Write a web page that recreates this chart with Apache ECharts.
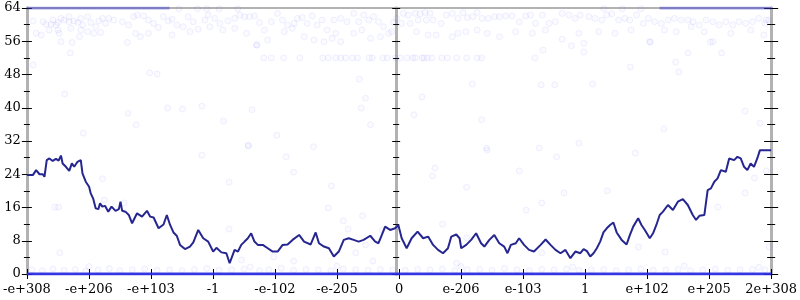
<!DOCTYPE html>
<html>
<head>
<meta charset="utf-8">
<script src="https://cdn.jsdelivr.net/npm/echarts@6/dist/echarts.min.js"></script>
<style>html,body{margin:0;padding:0;background:#fff;}#c{width:800px;height:300px;}</style>
</head>
<body>
<div id="c"></div>
<script>
// Tick labels of the x axis (one per unit step from 0 to 12)
const xTickLabels = ['-e+308','-e+206','-e+103','-1','-e-102','-e-205','0','e-206','e-103','1','e+102','e+205','2e+308'];

// Running-mean trend line [x, bits]
const trendPoints = [
[0,23.8],[0.096,23.8],[0.149,25.0],[0.176,25.3],[0.203,24.0],[0.256,24.0],[0.283,23.4],[0.32,27.4],[0.363,27.8],[0.416,27.2],
[0.469,27.7],[0.512,27.3],[0.549,28.5],[0.576,26.6],[0.629,25.8],[0.683,24.8],[0.725,26.6],[0.763,25.8],[0.816,27.0],[0.869,27.4],
[0.896,24.2],[0.949,22.2],[1.003,21.0],[1.029,19.4],[1.067,18.2],[1.109,15.8],[1.152,15.6],[1.179,17.0],[1.216,16.2],[1.259,16.4],
[1.312,15.0],[1.365,16.2],[1.429,15.2],[1.483,15.6],[1.509,17.4],[1.536,15.2],[1.589,15.0],[1.643,14.2],[1.696,12.2],[1.776,14.6],
[1.856,13.8],[1.936,15.2],[1.989,13.8],[2.043,13.6],[2.123,11.0],[2.203,11.9],[2.256,14.2],[2.309,11.8],[2.363,10.0],[2.416,9.2],
[2.469,7.0],[2.549,6.0],[2.629,6.6],[2.683,7.6],[2.763,10.6],[2.843,8.6],[2.923,7.8],[3.003,5.4],[3.056,6.3],[3.136,5.2],
[3.216,5.0],[3.269,2.6],[3.349,5.8],[3.403,5.4],[3.456,7.0],[3.509,7.8],[3.563,8.6],[3.616,9.8],[3.669,7.8],[3.723,7.0],
[3.803,7.0],[3.883,6.2],[3.963,5.4],[4.043,5.4],[4.123,7.0],[4.203,7.1],[4.283,8.2],[4.389,9.4],[4.469,7.8],[4.576,7.1],
[4.656,10.0],[4.709,7.4],[4.789,6.6],[4.869,6.2],[4.949,4.2],[5.029,5.4],[5.109,8.2],[5.189,8.6],[5.269,8.2],[5.349,7.8],
[5.429,8.2],[5.536,9.2],[5.616,7.8],[5.669,7.4],[5.723,9.4],[5.776,11.4],[5.856,10.6],[5.936,11.0],[5.989,11.8],[6.043,8.6],
[6.123,6.2],[6.203,8.6],[6.299,10.2],[6.389,8.6],[6.469,9.0],[6.549,7.0],[6.629,5.8],[6.709,5.0],[6.789,6.2],[6.843,9.0],
[6.923,9.5],[6.976,8.6],[7.003,6.2],[7.083,7.0],[7.163,8.2],[7.243,9.8],[7.323,7.4],[7.376,6.6],[7.456,8.2],[7.536,9.4],
[7.616,7.4],[7.696,6.6],[7.749,5.0],[7.803,7.0],[7.883,7.4],[7.936,8.6],[8.016,7.0],[8.096,5.8],[8.176,5.4],[8.283,7.0],
[8.363,8.3],[8.443,7.0],[8.523,5.8],[8.603,5.0],[8.683,5.8],[8.763,3.8],[8.843,5.4],[8.923,5.0],[8.976,6.0],[9.029,5.5],
[9.083,4.2],[9.136,5.0],[9.189,6.2],[9.243,7.8],[9.296,10.0],[9.349,11.0],[9.403,11.8],[9.456,12.4],[9.509,10.0],[9.589,8.2],
[9.669,7.1],[9.723,9.4],[9.776,11.4],[9.856,13.4],[9.909,11.8],[9.963,10.6],[10.043,8.6],[10.096,9.8],[10.149,11.8],[10.203,14.2],
[10.256,15.0],[10.336,16.6],[10.416,15.4],[10.496,17.4],[10.576,18.0],[10.656,16.6],[10.736,14.2],[10.789,13.0],[10.843,14.0],[10.923,14.2],
[10.976,20.2],[11.029,20.6],[11.083,22.2],[11.136,23.0],[11.189,25.0],[11.269,24.6],[11.323,27.8],[11.403,27.4],[11.456,28.2],[11.509,27.8],
[11.563,25.8],[11.616,25.0],[11.669,26.6],[11.723,25.8],[11.776,27.8],[11.819,29.8],[12,29.8]
];

// Samples packed at 0 bits and at 64 bits (dense runs)
const zeroRun = [[0,0],[12,0]];
const fullRunLeft = [[0,64],[2.3,64]];
const fullRunRight = [[10.2,64],[12,64]];

// Samples near the top (55-63 bits)
const topBand = [
[0.10,60.9],[0.26,60.7],[0.15,57.9],[0.23,57.5],[0.31,60.1],[0.39,60.1],[0.47,59.9],[0.50,60.5],[0.60,61.1],[0.68,60.7],
[0.76,60.9],[0.82,60.5],[0.90,59.9],[0.98,61.9],[1.03,60.5],[1.11,59.5],[0.50,58.7],[0.52,57.9],[0.36,58.7],[0.71,59.1],
[0.87,58.7],[0.98,58.3],[1.08,57.9],[1.19,58.1],[0.55,55.9],[0.73,55.7],[0.85,57.1],[1.22,61.5],[1.27,60.3],[1.16,60.9],
[0.87,61.5],[0.55,61.5],[0.68,61.9],[0.42,61.1],[1.32,61.5],[1.40,61.1],[1.54,60.7],[1.64,59.9],[1.72,61.9],[1.78,62.3],
[1.88,62.1],[1.96,61.1],[2.04,60.3],[2.12,59.3],[2.20,61.9],[2.28,60.9],[2.34,61.3],[2.42,59.9],[2.52,59.5],[2.60,61.9],
[2.68,60.7],[2.76,58.9],[2.87,61.1],[2.92,62.3],[3.03,61.5],[3.11,60.3],[3.16,58.7],[3.24,60.9],[3.35,61.5],[3.43,62.3],
[3.51,61.9],[3.59,61.9],[3.67,62.1],[3.75,60.5],[3.83,58.7],[3.94,60.7],[4.04,62.7],[4.12,61.1],[4.20,59.9],[4.28,59.1],
[4.36,61.5],[4.44,61.7],[4.52,60.3],[4.60,62.1],[4.68,59.9],[4.76,61.1],[4.84,58.7],[4.92,56.7],[1.75,57.9],[1.83,57.1],
[1.62,55.7],[1.96,57.9],[2.34,57.5],[2.63,58.3],[2.95,59.5],[3.35,59.1],[3.54,57.9],[3.70,55.1],[3.88,56.3],[4.15,58.3],
[4.31,60.3],[4.47,57.1],[4.63,56.3],[4.79,55.9],[4.95,61.1],[5.06,61.5],[5.16,60.7],[5.27,62.7],[5.35,60.7],[5.43,62.3],
[5.51,61.1],[5.59,61.9],[5.67,60.7],[5.75,59.5],[5.83,57.9],[5.91,60.5],[5.96,61.5],[5.27,57.9],[5.40,58.7],[5.54,56.7],
[5.70,57.1],[5.88,58.3],[4.98,57.9],[5.06,55.9],
[6.07,62.7],[6.15,62.3],[6.26,62.7],[6.34,62.6],[6.42,62.9],[6.50,62.7],[6.04,60.3],[6.18,60.3],[6.31,61.1],[6.44,61.1],
[6.55,61.1],[6.68,60.3],[6.76,62.3],[6.86,62.7],[6.95,61.5],[7.03,62.9],[7.10,61.7],[7.19,61.9],[7.26,62.9],[7.34,61.5],
[7.44,61.5],[7.54,61.9],[7.62,61.9],[7.72,62.1],[7.82,62.1],[7.94,60.7],[8.04,62.1],[8.12,62.3],[8.20,60.3],[8.31,62.3],
[8.42,60.3],[8.52,60.7],[8.63,62.7],[8.74,62.3],[8.84,61.5],[8.92,62.3],[9.06,61.9],[9.16,61.5],[9.27,61.1],[9.35,62.3],
[9.43,62.6],[9.54,61.1],[9.64,61.5],[9.72,61.1],[9.83,62.3],[9.94,60.3],[10.02,61.5],[10.12,60.7],[10.23,60.3],[10.34,61.1],
[10.44,61.5],[10.55,61.1],[10.66,61.1],[10.74,60.7],[10.84,59.9],[10.95,61.1],[11.06,60.7],[11.16,59.9],[11.27,60.7],[11.38,59.9],
[11.48,60.7],[11.59,60.3],[11.70,60.7],[11.80,61.5],[11.90,60.3],[11.96,61.1],
[6.28,58.3],[6.47,57.5],[6.60,57.5],[6.86,57.1],[6.95,57.9],[7.08,58.3],[7.26,58.7],[7.42,57.9],[7.62,57.1],[7.88,58.3],
[8.15,57.9],[8.36,58.7],[8.63,56.5],[8.90,57.9],[8.98,55.5],[9.22,58.3],[9.48,57.9],[9.74,58.7],[10.04,55.9],[10.28,58.7],
[10.47,58.3],[10.71,59.5],[10.92,58.3],[11.06,55.9],[11.35,57.9],[11.67,58.7],[11.88,57.5],[11.92,61.1],
[2.45,63.8],[2.75,63.8],[2.9,63.8],[3.1,63.8],[3.4,63.8],[9.3,63.8],[9.6,63.8],[9.9,63.8]
];

// Samples on the 52-bit row
const row52 = [
[3.82,52],[3.94,52],[4.14,52],[4.40,52],[4.77,52],[4.86,52],[4.98,52],[5.06,52],[5.14,52],[5.25,52],
[5.33,52],[5.52,52],[5.57,52],[5.74,52],[5.81,52],[5.94,52],[6.02,52],[6.13,52],[6.22,52],[6.26,52],
[6.37,52],[6.40,52],[6.46,52],[6.53,52],[6.69,52],[6.78,52],[6.93,52],[7.09,52],[7.26,52],[7.33,52]
];

// Isolated samples
const scattered = [
[0.10,50.3],[0.61,43.3],[0.70,53.2],[0.91,33.9],[1.63,38.7],[1.76,35.9],[1.98,48.4],[2.10,48.1],[2.27,39.9],[2.51,39.7],
[2.82,40.4],[3.17,36.8],[3.57,31.0],[3.63,39.5],[3.71,55.1],[4.03,33.4],[4.62,30.6],[5.36,46.9],[5.46,42.3],[5.39,39.9],
[5.54,35.9],[8.32,53.9],[8.19,52.0],[8.98,53.4],[8.78,54.9],[9.73,49.8],[10.46,51.0],[10.51,48.6],[10.66,53.2],[11.20,53.2],
[11.02,55.8],[10.05,55.8],[7.18,45.7],[8.29,45.5],[8.51,45.5],[9.12,45.7],[6.37,42.6],[6.24,38.3],[7.33,37.1],[7.41,30.3],
[8.26,30.3],[8.90,31.5],[10.27,34.9],[11.58,39.2],[11.82,36.3],
[2.82,28.6],[4.18,28.2],[4.30,24.5],[1.22,22.9],[3.26,22.1],[4.91,21.2],[1.25,17.8],[1.57,17.1],[0.45,16.1],[0.51,16.1],
[4.86,15.9],[5.10,12.8],[5.41,14.0],[5.18,10.8],[3.26,10.8],[0.53,5.1],[3.46,3.4],[4.30,3.1],[3.98,4.1],[5.46,7.0],
[3.57,30.8],[5.73,10.6],[5.30,5.1],[5.58,3.1],[7.42,29.8],[8.54,28.2],[9.81,29.1],[6.58,25.5],[6.54,23.6],[7.94,24.8],
[6.70,12.0],[7.09,20.9],[8.66,19.5],[9.36,20.0],[8.05,15.4],[8.30,17.1],[10.29,5.3],[9.86,6.5],[8.30,5.1],[6.93,2.6],
[11.58,19.5],[11.14,16.1],[11.92,24.8],[11.73,23.1],[11.97,6.5],[7.09,8.7]
];

// Samples just above zero (0-2 bits)
const bottomBand = [
[0.08,1.0],[0.25,0.8],[0.42,1.2],[0.6,0.9],[0.78,1.1],[0.95,0.7],[1.15,1.0],[1.33,1.3],[1.5,0.8],[1.7,1.0],
[1.9,1.2],[2.1,0.9],[2.3,1.0],[2.5,0.8],[2.7,1.1],[2.9,1.3],[3.1,0.9],[3.3,1.0],[3.5,1.2],[3.75,0.8],
[3.9,1.0],[4.1,1.4],[4.3,0.9],[4.5,1.1],[4.7,1.0],[4.9,0.8],[5.1,1.2],[5.3,1.0],[5.5,0.9],[5.7,1.1],
[5.9,1.0],[6.1,0.9],[6.3,1.1],[6.5,1.0],[6.7,1.2],[6.9,0.8],[7.1,1.0],[7.3,1.1],[7.5,0.9],[7.7,1.3],
[7.9,1.0],[8.1,0.8],[8.3,1.1],[8.5,1.0],[8.7,1.2],[8.9,0.9],[9.1,1.0],[9.3,1.1],[9.5,0.8],[9.7,1.0],
[9.9,1.2],[10.1,0.9],[10.3,1.0],[10.5,1.1],[10.7,0.8],[10.9,1.0],[11.1,1.2],[11.3,0.9],[11.5,1.0],[11.7,1.1],
[11.9,1.0],[1.0,1.8],[3.6,1.7],[5.0,1.9],[7.0,1.8],[8.8,1.7],[10.6,1.9],[11.8,1.6]
];

const FONT = 'DejaVu Serif';
const AX_GRAY = '#b2b2b2';
const dot = {
  type: 'scatter', symbol: 'circle', symbolSize: 6, silent: true,
  itemStyle: { color: 'rgba(80,80,255,0.035)', borderColor: 'rgba(80,80,255,0.10)', borderWidth: 1 }
};

function yAx(pos, offset, inside, len, minorLen, labels) {
  return {
    type: 'value', position: pos, offset: offset, min: 0, max: 64, interval: 8,
    axisLine: { show: true, onZero: false, lineStyle: { color: AX_GRAY, width: 3 } },
    axisTick: { show: true, inside: inside, length: len, lineStyle: { color: '#000', width: 1 } },
    minorTick: { show: true, splitNumber: 2, length: minorLen, lineStyle: { color: '#000', width: 1 } },
    axisLabel: { show: labels, fontFamily: FONT, fontSize: 13, color: '#000', margin: 6 },
    splitLine: { show: false }, minorSplitLine: { show: false }
  };
}

function xAx(inside, labels) {
  return {
    type: 'value', position: 'bottom', min: 0, max: 12, interval: 1,
    axisLine: { show: true, onZero: false, lineStyle: { color: AX_GRAY, width: 2 } },
    axisTick: { show: true, inside: inside, length: 5, lineStyle: { color: '#000', width: 1 } },
    axisLabel: { show: labels, fontFamily: FONT, fontSize: 13, color: '#000', margin: 9,
      formatter: function (v) { return xTickLabels[Math.round(v)] || ''; } },
    splitLine: { show: false }
  };
}

const chart = echarts.init(document.getElementById('c'), null, { renderer: 'canvas' });
chart.setOption({
  animation: false,
  backgroundColor: '#fff',
  grid: { left: 24, right: 26, top: 8, bottom: 26, containLabel: false },
  xAxis: [
    xAx(false, true),
    xAx(true, false),
    {
      type: 'value', position: 'top', min: 0, max: 12,
      axisLine: { show: true, onZero: false, lineStyle: { color: AX_GRAY, width: 2 } },
      axisTick: { show: false }, axisLabel: { show: false }, splitLine: { show: false }
    }
  ],
  yAxis: [
    yAx('left', 0, false, 5, 3, true),
    yAx('left', 0, true, 5, 3, false),
    yAx('right', 0, false, 7, 4, false),
    yAx('right', 0, true, 7, 4, false),
    yAx('right', -375, false, 4, 3, false),
    yAx('right', -375, true, 4, 3, false)
  ],
  series: [
    Object.assign({}, dot, { data: topBand }),
    Object.assign({}, dot, { data: row52 }),
    Object.assign({}, dot, { data: scattered }),
    Object.assign({}, dot, { data: bottomBand }),
    { type: 'line', data: fullRunLeft, showSymbol: false, silent: true, z: 3,
      lineStyle: { color: 'rgba(60,60,210,0.45)', width: 3 } },
    { type: 'line', data: fullRunRight, showSymbol: false, silent: true, z: 3,
      lineStyle: { color: 'rgba(60,60,210,0.45)', width: 3 } },
    { type: 'line', data: zeroRun, showSymbol: false, silent: true, z: 3,
      lineStyle: { color: 'rgba(40,40,230,0.9)', width: 3 } },
    { type: 'line', data: trendPoints, showSymbol: false, silent: true, z: 4,
      lineStyle: { color: '#262690', width: 2 } }
  ]
});
</script>
</body>
</html>
